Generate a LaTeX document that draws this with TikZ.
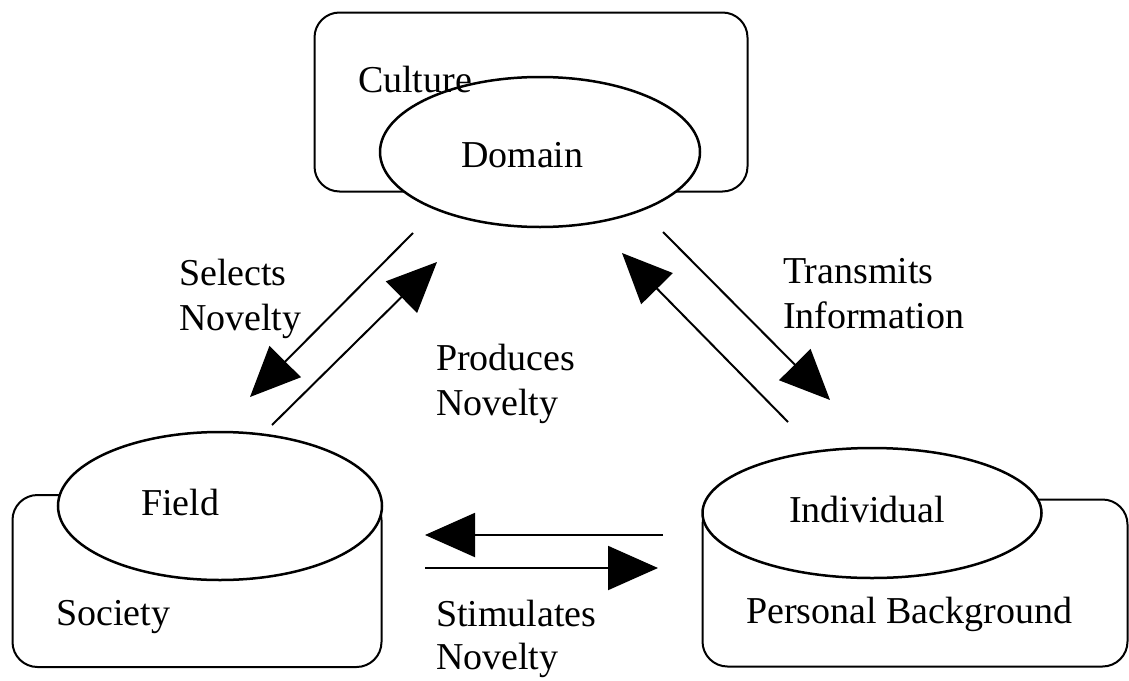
\documentclass[tikz,border=0pt]{standalone}
\usepackage{fontspec}
\setmainfont{Liberation Serif}
\usetikzlibrary{shapes.geometric}
\usetikzlibrary{arrows.meta}
\usetikzlibrary{positioning}

\begin{document}
\begin{tikzpicture}[x=1pt,y=-1pt,line width=2pt,
  every node/.style={font=\fontsize{38}{45}\selectfont,inner sep=0pt},
  box/.style={draw,rectangle,rounded corners=25pt},
  oval/.style={draw,ellipse,fill=white,line width=2.5pt},
  txt/.style={align=left,anchor=base west},
  arr/.style={-{Triangle[length=50pt,width=44pt]}}]
  \useasboundingbox (0,0) rectangle (1129,680);
  % culture / domain
  \node[box,minimum width=433pt,minimum height=179pt] (culture) at (531,102) {};
  \node[oval,minimum width=320pt,minimum height=150pt] (domain) at (540,152) {};
  \node[txt] (culturetxt) at (357,92) {Culture};
  \node[txt] (domaintxt) at (460,167) {Domain};
  % society / field
  \node[box,minimum width=369pt,minimum height=172pt] (society) at (197,581) {};
  \node[oval,minimum width=324pt,minimum height=148pt] (field) at (220,506) {};
  \node[txt] (fieldtxt) at (140,515) {Field};
  \node[txt] (societytxt) at (55,625) {Society};
  % background / individual
  \node[box,minimum width=425pt,minimum height=167pt] (background) at (915,583) {};
  \node[oval,minimum width=339pt,minimum height=130pt] (individual) at (872,513) {};
  \node[txt] (individualtxt) at (788,522) {Individual};
  \node[txt] (backgroundtxt) at (745,623) {Personal Background};

  \coordinate (sel1) at (413,233);
  \coordinate (sel2) at (250,397);
  \coordinate (pro1) at (272,425);
  \coordinate (pro2) at (437,262);
  \coordinate (tra1) at (663,232);
  \coordinate (tra2) at (830,400);
  \coordinate (ret1) at (788,422);
  \coordinate (ret2) at (622,253);
  \coordinate (bak1) at (663,535);
  \coordinate (bak2) at (425,535);
  \coordinate (sti1) at (425,568);
  \coordinate (sti2) at (658,568);
  \draw[arr](sel1)--(sel2);
  \draw[arr](pro1)--(pro2);
  \draw[arr](tra1)--(tra2);
  \draw[arr](ret1)--(ret2);
  \draw[arr](bak1)--(bak2);
  \draw[arr](sti1)--(sti2);

  \node[txt] (selects) at (178,330) {Selects\\Novelty};
  \node[txt] (produces) at (435,415) {Produces\\Novelty};
  \node[txt] (transmits) at (782,328) {Transmits\\Information};
  \node[txt,font=\fontsize{38}{43}\selectfont] (stimulates) at (435,669) {Stimulates\\Novelty};
\end{tikzpicture}
\end{document}
